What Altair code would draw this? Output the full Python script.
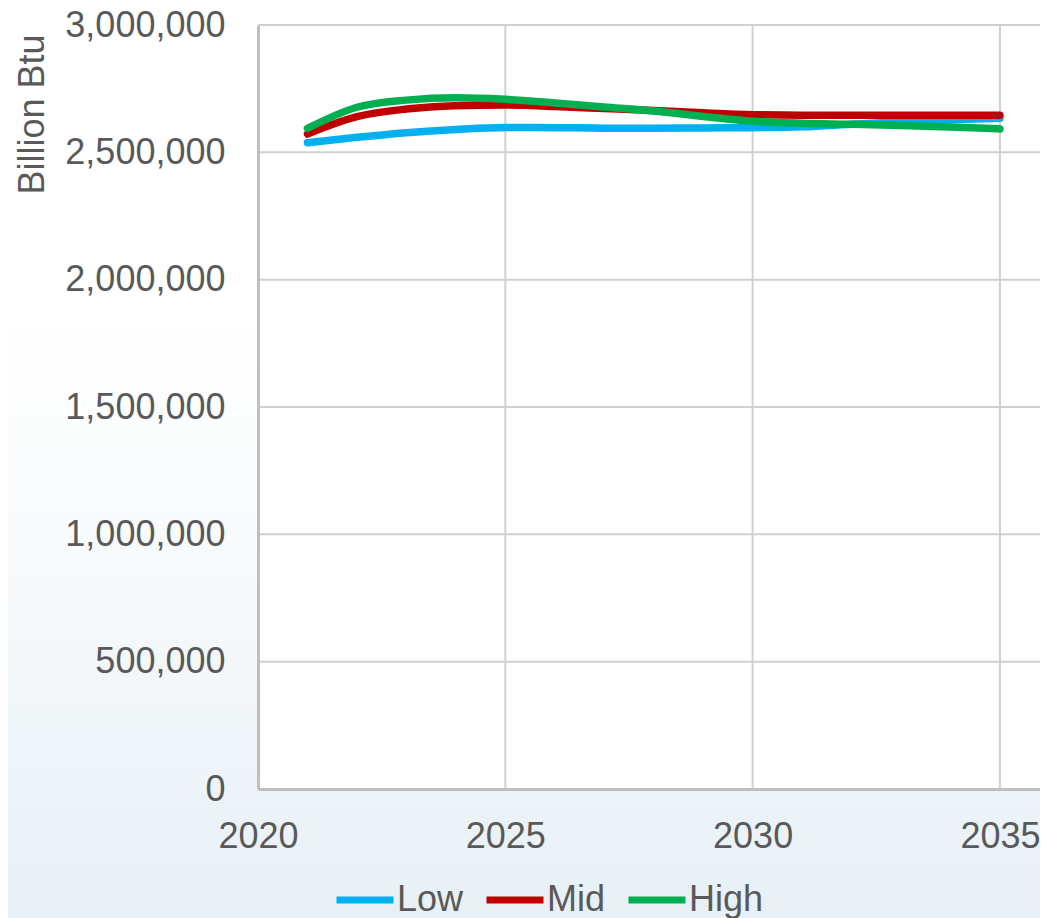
import altair as alt
import pandas as pd

years = list(range(2021, 2036))
low = [2538000, 2559000, 2577000, 2590000, 2598000, 2597000, 2595000, 2595000,
       2596000, 2597000, 2600000, 2610000, 2620000, 2628000, 2634000]
mid = [2572000, 2640000, 2670000, 2683000, 2686000, 2680000, 2672000, 2664000,
       2655000, 2648000, 2646000, 2646000, 2646000, 2646000, 2646000]
high = [2594000, 2677000, 2705000, 2714000, 2708000, 2694000, 2678000, 2662000,
        2641000, 2622000, 2614000, 2610000, 2605000, 2599000, 2592000]
series = ["Low", "Mid", "High"]
colors = ["#00b0f0", "#c00000", "#00b050"]
x_ticks = [2020, 2025, 2030, 2035]
y_ticks = [0, 500000, 1000000, 1500000, 2000000, 2500000, 3000000]

rows = []
for name, vals in zip(series, [low, mid, high]):
    for yr, v in zip(years, vals):
        rows.append({"Year": yr, "Value": v, "Series": name})
df = pd.DataFrame(rows)

FONT = "Liberation Sans"
TXT = "#595959"
W, H = 782, 764
xscale = alt.Scale(domain=[2020, 2035.81], nice=False, zero=False)
yscale = alt.Scale(domain=[0, 3000000], nice=False)

x_axis = alt.Axis(title=None, values=x_ticks, format="d", grid=False, zindex=1,
                  labelFontSize=36, labelColor=TXT, labelFont=FONT,
                  labelPadding=30, ticks=False, domainColor="#bfbfbf", domainWidth=3,
                  labelFlush=False)
y_axis = alt.Axis(title="Billion Btu", values=y_ticks, grid=False, zindex=1,
                  format=",d", labelFontSize=36, labelColor=TXT, labelFont=FONT,
                  labelPadding=33, ticks=False, domainColor="#bfbfbf", domainWidth=3,
                  titleFontSize=36, titleColor=TXT, titleFont=FONT, titleFontWeight="normal",
                  titleX=-226, titleY=89, titleAngle=270, titleAlign="center",
                  titleBaseline="middle")

one = pd.DataFrame({"k": [0]})
bg = alt.Chart(one).mark_rect(
    color=alt.Gradient(gradient="linear", x1=0, y1=0, x2=0, y2=1,
                       stops=[alt.GradientStop(offset=0, color="#ffffff"),
                              alt.GradientStop(offset=0.33, color="#ffffff"),
                              alt.GradientStop(offset=0.66, color="#f6f9fb"),
                              alt.GradientStop(offset=1, color="#e7f0f6")]),
    clip=False,
).encode(x=alt.value(-250), x2=alt.value(W), y=alt.value(-17), y2=alt.value(H + 129))

plotbg = alt.Chart(one).mark_rect(color="white").encode(
    x=alt.value(0), x2=alt.value(W), y=alt.value(0), y2=alt.value(H))

gx = alt.Chart(pd.DataFrame({"Year": x_ticks[1:]})).mark_rule(color="#d0d0d0", strokeWidth=2).encode(
    x=alt.X("Year:Q", scale=xscale, axis=x_axis))
gy = alt.Chart(pd.DataFrame({"Value": y_ticks[1:]})).mark_rule(color="#d0d0d0", strokeWidth=2).encode(
    y=alt.Y("Value:Q", scale=yscale, axis=y_axis))

lines = alt.Chart(df).mark_line(strokeWidth=7.5, interpolate="monotone", strokeCap="round").encode(
    x=alt.X("Year:Q", scale=xscale, axis=x_axis),
    y=alt.Y("Value:Q", scale=yscale, axis=y_axis),
    color=alt.Color("Series:N", scale=alt.Scale(domain=series, range=colors),
                    legend=alt.Legend(title=None, orient="none", direction="horizontal",
                                      legendX=75, legendY=843, symbolType="stroke",
                                      symbolSize=3249, symbolStrokeWidth=7,
                                      labelFontSize=36, labelColor=TXT, labelFont=FONT,
                                      labelOffset=0, columnPadding=8)),
)

chart = alt.layer(bg, plotbg, gx, gy, lines).properties(
    width=W, height=H,
    autosize=alt.AutoSizeParams(type="none"),
    padding={"left": 250, "top": 17, "right": 0, "bottom": 129},
    background="white",
).configure_view(fill=None, stroke=None)

chart.save("out.html", embed_options={"renderer": "svg", "actions": False})
